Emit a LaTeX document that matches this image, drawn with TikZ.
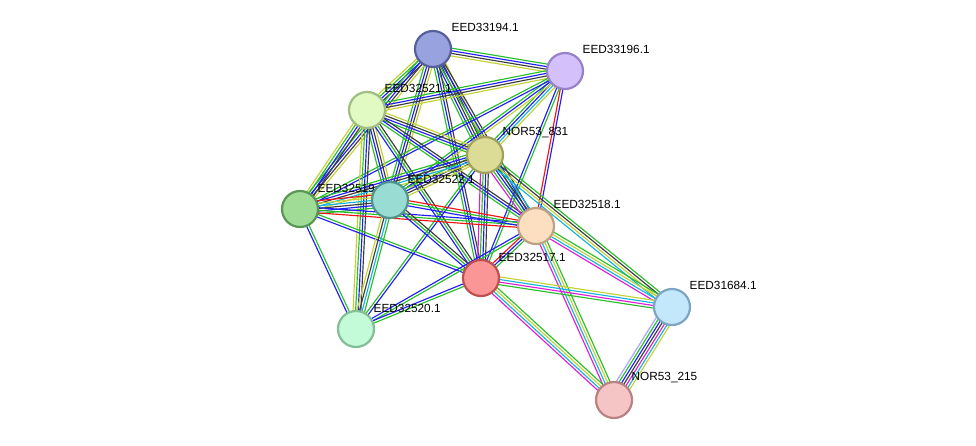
\documentclass[tikz,border=0pt]{standalone}
\usepackage{fontspec}
\setmainfont{Liberation Sans}
\usetikzlibrary{calc}
\definecolor{eg}{RGB}{40,190,40}
\definecolor{ey}{RGB}{195,210,50}
\definecolor{eb}{RGB}{30,30,250}
\definecolor{ek}{RGB}{60,60,60}
\definecolor{el}{RGB}{20,180,220}
\definecolor{em}{RGB}{220,30,220}
\definecolor{er}{RGB}{240,20,20}
\definecolor{ev}{RGB}{165,165,250}
\newcommand\sedge[3]{%
  \foreach \c [count=\i] in {#3} {\xdef\nn{\i}}%
  \foreach \c [count=\i] in {#3} {%
    \pgfmathsetmacro\off{(\i-(\nn+1)/2)*2.6}%
    \draw[line width=1.15pt,color=\c] ($(#1)!\off pt!90:(#2)$) -- ($(#2)!\off pt!-90:(#1)$);
  }%
}
\tikzset{
  prot/.style={circle,minimum size=36pt,inner sep=0pt,line width=2.2pt},
  lab/.style={font=\fontsize{11.8}{13}\selectfont,anchor=west,inner sep=0.5pt,text=black}
}
\begin{document}
\begin{tikzpicture}[x=1pt,y=-1pt]
\useasboundingbox (0,0) rectangle (976,445);
% coordinates
\coordinate (a94) at (433,49);
\coordinate (a96) at (565,71);
\coordinate (a21) at (367,110);
\coordinate (a31) at (485,155);
\coordinate (a19) at (300,209);
\coordinate (a22) at (390,200);
\coordinate (a18) at (536,226);
\coordinate (a17) at (481,278);
\coordinate (a20) at (356,329);
\coordinate (a84) at (672,307);
\coordinate (a15) at (614,400);
% edges
\sedge{a94}{a96}{ey,ek,eb,eg}
\sedge{a94}{a21}{ey,eg,eb,ek}
\sedge{a94}{a31}{eg,eb,ek,ek,ey}
\sedge{a94}{a22}{eg,eb,ek,ey}
\sedge{a94}{a19}{eg,eb,ek,ey}
\sedge{a94}{a17}{eg,eb,ek}
\sedge{a94}{a18}{eg,eb,ek}
\sedge{a96}{a21}{eg,eb,ek,ey}
\sedge{a96}{a31}{eg,eb,el,ey}
\sedge{a96}{a22}{eg,eb,ey}
\sedge{a96}{a19}{eg,eb}
\sedge{a96}{a18}{er,eb}
\sedge{a96}{a17}{eb,eg}
\sedge{a21}{a31}{eg,eb,ek,ey}
\sedge{a21}{a19}{ey,eg,eb,ek}
\sedge{a21}{a22}{eg,eb,ek,ey}
\sedge{a21}{a18}{eg,eb,ek}
\sedge{a21}{a17}{eb,eg,ek}
\sedge{a21}{a20}{ey,eg,eb,ek}
\sedge{a31}{a22}{eg,eb,ek,ey}
\sedge{a31}{a19}{eg,eb,ek,el,ey}
\sedge{a31}{a18}{em,eg,eb,ek,el}
\sedge{a31}{a17}{em,eg,eb,ek}
\sedge{a31}{a84}{el,ey,ek,eg}
\sedge{a31}{a20}{eg,eb}
\sedge{a19}{a22}{eg,eb,ek,el,ey,er}
\sedge{a19}{a18}{er,eg,eb}
\sedge{a19}{a17}{eb,eg}
\sedge{a19}{a20}{eb,eg}
\sedge{a22}{a18}{eb,eg,er}
\sedge{a22}{a17}{eb,eg,ek}
\sedge{a22}{a20}{ey,ek,el,eg}
\sedge{a18}{a17}{er,eb,eg}
\sedge{a18}{a84}{em,el,ey,eg}
\sedge{a18}{a15}{em,el,ey,eg}
\sedge{a18}{a20}{eb,eg}
\sedge{a17}{a84}{eg,em,el,ey}
\sedge{a17}{a15}{em,el,ey,eg}
\sedge{a17}{a20}{eb,eg}
\sedge{a84}{a15}{ev,eg,eb,ek,em,el,ey}
% nodes
\node[prot,fill={rgb,255:red,152;green,162;blue,222},draw={rgb,255:red,85;green,95;blue,155}] (n94) at (a94) {};
\node[lab] (l94) at (451,27) {EED33194.1};
\node[prot,fill={rgb,255:red,212;green,192;blue,250},draw={rgb,255:red,150;green,130;blue,200}] (n96) at (a96) {};
\node[lab] (l96) at (582,49) {EED33196.1};
\node[prot,fill={rgb,255:red,225;green,250;blue,195},draw={rgb,255:red,160;green,190;blue,130}] (n21) at (a21) {};
\node[lab] (l21) at (384,88) {EED32521.1};
\node[prot,fill={rgb,255:red,220;green,220;blue,150},draw={rgb,255:red,160;green,160;blue,95}] (n31) at (a31) {};
\node[lab] (l31) at (502,133) {NOR53\_831};
\node[prot,fill={rgb,255:red,160;green,220;blue,150},draw={rgb,255:red,90;green,150;blue,85}] (n19) at (a19) {};
\node[lab] (l19) at (317,188) {EED32519.1};
\node[prot,fill={rgb,255:red,152;green,220;blue,212},draw={rgb,255:red,80;green,150;blue,140}] (n22) at (a22) {};
\node[lab] (l22) at (407,179) {EED32522.1};
\node[prot,fill={rgb,255:red,252;green,222;blue,192},draw={rgb,255:red,190;green,160;blue,130}] (n18) at (a18) {};
\node[lab] (l18) at (553,204) {EED32518.1};
\node[prot,fill={rgb,255:red,250;green,150;blue,150},draw={rgb,255:red,190;green,80;blue,80}] (n17) at (a17) {};
\node[lab] (l17) at (498,257) {EED32517.1};
\node[prot,fill={rgb,255:red,195;green,250;blue,215},draw={rgb,255:red,130;green,190;blue,150}] (n20) at (a20) {};
\node[lab] (l20) at (373,308) {EED32520.1};
\node[prot,fill={rgb,255:red,195;green,232;blue,252},draw={rgb,255:red,125;green,165;blue,195}] (n84) at (a84) {};
\node[lab] (l84) at (689,285) {EED31684.1};
\node[prot,fill={rgb,255:red,245;green,197;blue,197},draw={rgb,255:red,185;green,130;blue,130}] (n15) at (a15) {};
\node[lab] (l15) at (631,378) {NOR53\_215};
\end{tikzpicture}
\end{document}
